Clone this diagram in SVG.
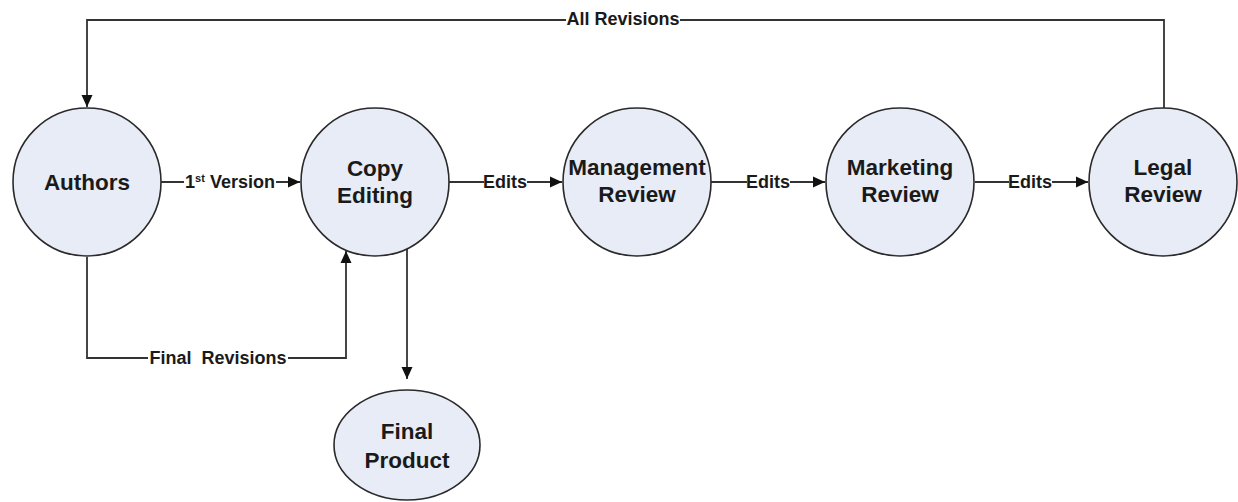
<svg xmlns="http://www.w3.org/2000/svg" width="1238" height="502" viewBox="0 0 1238 502">
<defs>
<marker id="arr" viewBox="0 0 12 12" refX="12" refY="6" markerWidth="12" markerHeight="12" markerUnits="userSpaceOnUse" orient="auto">
<path d="M0,0.5 L12,6 L0,11.5 Z" fill="#111"/>
</marker>
<style>
.node{fill:#e8ecf6;stroke:#2a2a2a;stroke-width:1.6}
.nt{font-family:"Liberation Sans",Arial,sans-serif;font-weight:bold;font-size:22.5px;fill:#1a1a1a;text-anchor:middle}
.ln{fill:none;stroke:#333;stroke-width:1.8}
.lbl{font-family:"Liberation Sans",Arial,sans-serif;font-weight:bold;font-size:18px;fill:#1a1a1a;text-anchor:middle}
.bg{fill:#fff}
</style>
</defs>
<rect width="1238" height="502" fill="#fff"/>
<g id="connectors">
<path class="ln" d="M161,182 H300" marker-end="url(#arr)"/>
<path class="ln" d="M448,182 H562" marker-end="url(#arr)"/>
<path class="ln" d="M711,182 H825" marker-end="url(#arr)"/>
<path class="ln" d="M975,182 H1088" marker-end="url(#arr)"/>
<path class="ln" d="M1164,108 V20 H87 V107" marker-end="url(#arr)"/>
<path class="ln" d="M87,257 V358 H346 V251" marker-end="url(#arr)"/>
<path class="ln" d="M407,249 V379" marker-end="url(#arr)"/>
<rect class="bg" x="184" y="170" width="92" height="22"/>
<text class="lbl" x="230" y="188">1<tspan font-size="11" dy="-6">st</tspan><tspan dy="6"> Version</tspan></text>
<rect class="bg" x="484" y="170" width="43" height="22"/>
<text class="lbl" x="505" y="188">Edits</text>
<rect class="bg" x="747" y="170" width="43" height="22"/>
<text class="lbl" x="768" y="188">Edits</text>
<rect class="bg" x="1009" y="170" width="43" height="22"/>
<text class="lbl" x="1030" y="188">Edits</text>
<rect class="bg" x="566" y="8" width="114" height="22"/>
<text class="lbl" x="623" y="25">All Revisions</text>
<rect class="bg" x="148" y="347" width="140" height="22"/>
<text class="lbl" x="218" y="364" xml:space="preserve">Final  Revisions</text>
</g>
<g id="authors">
<circle class="node" cx="87" cy="182" r="74"/>
<text class="nt" x="87" y="190">Authors</text>
</g>
<g id="copy-editing">
<circle class="node" cx="375" cy="182" r="74"/>
<text class="nt" x="375" y="176">Copy</text>
<text class="nt" x="375" y="203">Editing</text>
</g>
<g id="management-review">
<circle class="node" cx="637" cy="182" r="74"/>
<text class="nt" x="637" y="175">Management</text>
<text class="nt" x="637" y="202">Review</text>
</g>
<g id="marketing-review">
<circle class="node" cx="900" cy="182" r="74"/>
<text class="nt" x="900" y="175">Marketing</text>
<text class="nt" x="900" y="202">Review</text>
</g>
<g id="legal-review">
<circle class="node" cx="1163" cy="182" r="74"/>
<text class="nt" x="1163" y="175">Legal</text>
<text class="nt" x="1163" y="202">Review</text>
</g>
<g id="final-product">
<ellipse class="node" cx="407" cy="445" rx="73" ry="55"/>
<text class="nt" x="407" y="439">Final</text>
<text class="nt" x="407" y="468">Product</text>
</g>
</svg>
